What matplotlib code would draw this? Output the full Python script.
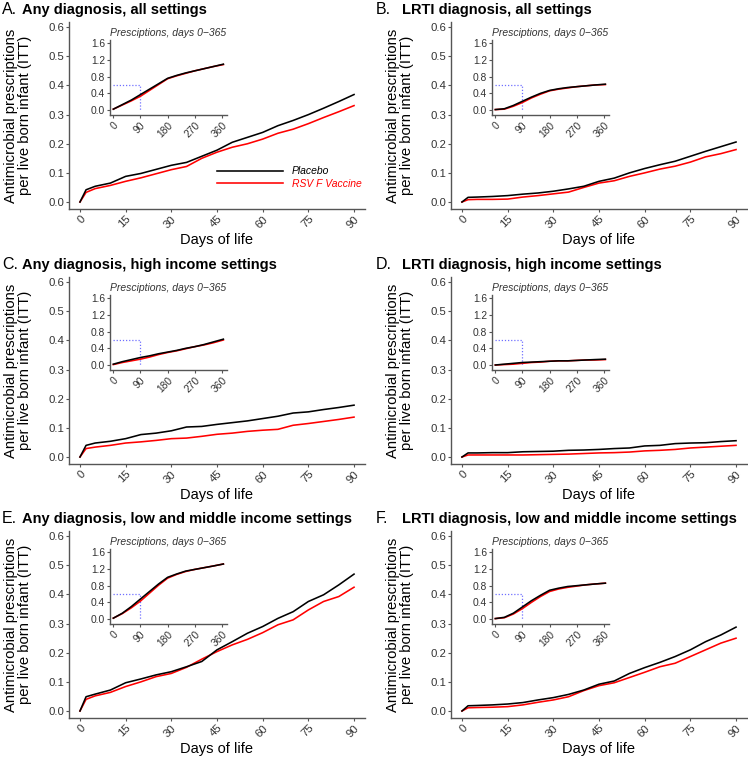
import matplotlib
matplotlib.use("Agg")
import matplotlib.pyplot as plt

plt.rcParams['font.family'] = ['Liberation Sans', 'DejaVu Sans']

# main panels, days 0-90
days_main = [0, 2, 5, 10, 15, 20, 25, 30, 35, 40, 45, 50, 55, 60, 65, 70, 75, 80, 85, 90]
# insets, days 0-365
days_year = [0, 30, 60, 90, 120, 150, 180, 210, 240, 270, 300, 330, 365]

titles = ["Any diagnosis, all settings", "LRTI diagnosis, all settings",
          "Any diagnosis, high income settings", "LRTI diagnosis, high income settings",
          "Any diagnosis, low and middle income settings", "LRTI diagnosis, low and middle income settings"]
letters = ["A.", "B.", "C.", "D.", "E.", "F."]

placebo_main = [
    [0, 0.042, 0.054, 0.065, 0.088, 0.098, 0.112, 0.126, 0.136, 0.157, 0.178, 0.205, 0.222, 0.239, 0.262, 0.28, 0.30, 0.322, 0.345, 0.369],
    [0, 0.016, 0.017, 0.019, 0.022, 0.027, 0.031, 0.037, 0.045, 0.054, 0.071, 0.082, 0.10, 0.115, 0.128, 0.14, 0.157, 0.174, 0.19, 0.206],
    [0, 0.04, 0.048, 0.054, 0.063, 0.077, 0.082, 0.09, 0.103, 0.105, 0.112, 0.118, 0.124, 0.132, 0.14, 0.151, 0.155, 0.163, 0.17, 0.178],
    [0, 0.014, 0.014, 0.015, 0.015, 0.018, 0.019, 0.02, 0.023, 0.024, 0.026, 0.029, 0.031, 0.038, 0.04, 0.046, 0.048, 0.049, 0.053, 0.056],
    [0, 0.049, 0.058, 0.072, 0.097, 0.11, 0.124, 0.135, 0.152, 0.17, 0.21, 0.238, 0.267, 0.29, 0.318, 0.341, 0.376, 0.399, 0.433, 0.47],
    [0, 0.018, 0.019, 0.021, 0.024, 0.029, 0.038, 0.046, 0.057, 0.072, 0.092, 0.103, 0.129, 0.149, 0.167, 0.187, 0.21, 0.238, 0.261, 0.288],
]
vaccine_main = [
    [0, 0.033, 0.046, 0.057, 0.071, 0.083, 0.097, 0.111, 0.122, 0.150, 0.171, 0.188, 0.20, 0.216, 0.236, 0.25, 0.269, 0.29, 0.31, 0.331],
    [0, 0.008, 0.009, 0.009, 0.010, 0.017, 0.022, 0.028, 0.034, 0.05, 0.065, 0.073, 0.088, 0.10, 0.113, 0.123, 0.137, 0.155, 0.166, 0.18],
    [0, 0.029, 0.034, 0.04, 0.048, 0.052, 0.057, 0.063, 0.065, 0.071, 0.078, 0.082, 0.088, 0.092, 0.095, 0.109, 0.115, 0.122, 0.129, 0.137],
    [0, 0.007, 0.007, 0.007, 0.007, 0.007, 0.008, 0.009, 0.01, 0.012, 0.014, 0.015, 0.017, 0.021, 0.023, 0.026, 0.031, 0.034, 0.037, 0.04],
    [0, 0.04, 0.052, 0.064, 0.084, 0.10, 0.118, 0.129, 0.15, 0.178, 0.204, 0.227, 0.246, 0.269, 0.296, 0.313, 0.347, 0.376, 0.393, 0.425],
    [0, 0.011, 0.012, 0.013, 0.015, 0.021, 0.03, 0.038, 0.049, 0.07, 0.087, 0.097, 0.115, 0.133, 0.152, 0.164, 0.187, 0.21, 0.233, 0.25],
]
placebo_year = [
    [0.02, 0.13, 0.24, 0.37, 0.50, 0.63, 0.76, 0.83, 0.89, 0.94, 0.99, 1.04, 1.10],
    [0.01, 0.03, 0.11, 0.21, 0.31, 0.40, 0.47, 0.51, 0.54, 0.56, 0.58, 0.60, 0.62],
    [0.02, 0.08, 0.13, 0.18, 0.22, 0.27, 0.31, 0.35, 0.40, 0.44, 0.49, 0.55, 0.62],
    [0.0, 0.02, 0.04, 0.06, 0.07, 0.08, 0.09, 0.10, 0.10, 0.11, 0.12, 0.13, 0.14],
    [0.02, 0.14, 0.30, 0.48, 0.66, 0.84, 1.00, 1.08, 1.15, 1.19, 1.23, 1.27, 1.32],
    [0.01, 0.04, 0.14, 0.29, 0.44, 0.57, 0.69, 0.74, 0.78, 0.80, 0.82, 0.84, 0.86],
]
vaccine_year = [
    [0.02, 0.12, 0.22, 0.33, 0.47, 0.61, 0.75, 0.82, 0.88, 0.94, 0.99, 1.04, 1.09],
    [0.01, 0.02, 0.09, 0.18, 0.29, 0.38, 0.46, 0.50, 0.53, 0.56, 0.58, 0.60, 0.61],
    [0.01, 0.06, 0.10, 0.14, 0.19, 0.25, 0.30, 0.34, 0.39, 0.44, 0.48, 0.53, 0.60],
    [0.0, 0.01, 0.02, 0.04, 0.06, 0.07, 0.09, 0.10, 0.10, 0.11, 0.12, 0.12, 0.13],
    [0.02, 0.13, 0.27, 0.43, 0.62, 0.81, 0.98, 1.07, 1.14, 1.19, 1.23, 1.27, 1.32],
    [0.01, 0.03, 0.12, 0.25, 0.40, 0.54, 0.66, 0.72, 0.76, 0.79, 0.82, 0.84, 0.86],
]

W, H = 748, 759
fig = plt.figure(figsize=(W / 100, H / 100), dpi=100)

SPINE = '#555555'
TXT = '#333333'


def px_axes(left, top, width, height):
    return fig.add_axes([left / W, 1 - (top + height) / H, width / W, height / H])


def style(ax, fs):
    for s in ['top', 'right']:
        ax.spines[s].set_visible(False)
    for s in ['left', 'bottom']:
        ax.spines[s].set_color(SPINE)
        ax.spines[s].set_linewidth(1.0)
    ax.tick_params(colors=SPINE, labelcolor=TXT, labelsize=fs, length=2.5, width=0.8, pad=1)
    for lab in ax.get_xticklabels():
        lab.set_rotation(45)
        lab.set_ha('right')
        lab.set_va('top')
        lab.set_rotation_mode('anchor')


lefts = [69, 451]
letter_x = [2, 376]
tops = [22, 277, 531]

for i in range(6):
    r, c = divmod(i, 2)
    L, T = lefts[c], tops[r]
    ax = px_axes(L, T, 296, 187)
    ax.plot(days_main, placebo_main[i], color='black', lw=1.15, label='Placebo', zorder=3)
    ax.plot(days_main, vaccine_main[i], color='red', lw=1.15, label='RSV F Vaccine', zorder=2)
    ax.set_xlim(-3.6, 93.6)
    ax.set_ylim(-0.024, 0.618)
    ax.set_xticks([0, 15, 30, 45, 60, 75, 90])
    ax.set_yticks([0.0, 0.1, 0.2, 0.3, 0.4, 0.5, 0.6])
    ax.set_yticklabels([f"{v:.1f}" for v in ax.get_yticks()])
    style(ax, 8.2)
    ax.set_xlabel("Days of life", fontsize=10.5, color='black', va='center')
    ax.xaxis.set_label_coords(0.5, -0.167)
    ax.set_ylabel("Antimicrobial prescriptions\nper live born infant (ITT)", fontsize=10.7,
                  color='black', linespacing=1.0, va='center')
    ax.yaxis.set_label_coords(-0.172, 0.5)
    # panel title: regular letter + bold text
    fig.text(letter_x[c] / W, 1 - (T - 8) / H, letters[i], fontsize=11.5, va='baseline', ha='left')
    fig.text((letter_x[c] + 20 + 6 * c) / W, 1 - (T - 8) / H, titles[i], fontsize=10.5,
             fontweight='bold', va='baseline', ha='left')

    if i == 0:
        ax.legend(loc='upper left', bbox_to_anchor=(0.5, 0.228), frameon=False,
                  handlelength=6.3, handletextpad=0.9, labelspacing=0.25, borderpad=0,
                  borderaxespad=0, prop={'style': 'italic', 'size': 7.5},
                  labelcolor=['black', 'red'])

    ins = px_axes(L + 41, T + 18, 117, 75)
    ins.plot(days_year, placebo_year[i], color='black', lw=1.15, zorder=3)
    ins.plot(days_year, vaccine_year[i], color='red', lw=1.15, zorder=2)
    ins.plot([0, 90, 90], [0.6, 0.6, 0], color='#7070ff', lw=0.9, ls=(0, (1, 1.5)), zorder=1)
    ins.set_xlim(-11, 377)
    ins.set_ylim(-0.12, 1.68)
    ins.set_xticks([0, 90, 180, 270, 360])
    ins.set_yticks([0.0, 0.4, 0.8, 1.2, 1.6])
    ins.set_yticklabels([f"{v:.1f}" for v in ins.get_yticks()])
    style(ins, 7.4)
    ins.set_title("Presciptions, days 0\u2212365", fontsize=7.5, style='italic', color=TXT, pad=3)

fig.savefig("out.png", dpi=100)
